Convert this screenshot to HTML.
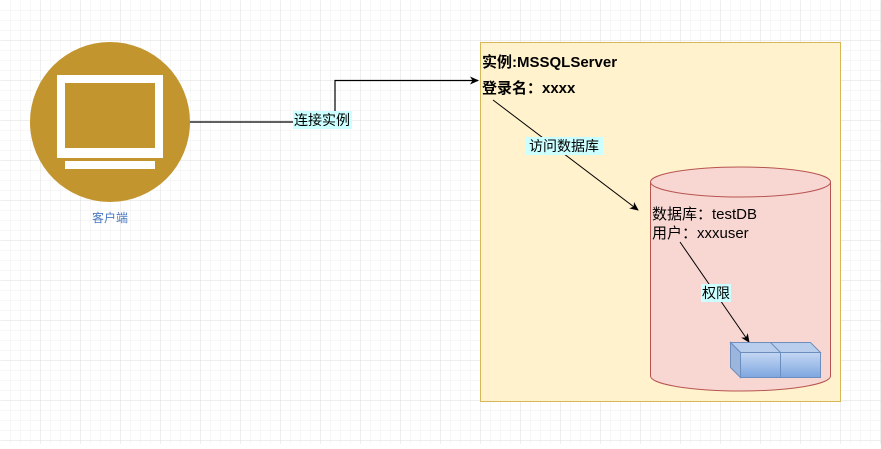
<!DOCTYPE html>
<html><head><meta charset="utf-8"><style>
html,body{margin:0;padding:0;background:#fff}
svg text{font-family:"Liberation Sans","Noto Sans CJK SC",sans-serif}
</style></head><body>
<svg width="881" height="444" xmlns="http://www.w3.org/2000/svg">
<defs>
<pattern id="g1" width="10" height="10" patternUnits="userSpaceOnUse"><path d="M10 0V10H0" fill="none" stroke="#efefef" stroke-width="1"/></pattern>
<pattern id="g2" width="40" height="40" patternUnits="userSpaceOnUse"><rect width="40" height="40" fill="url(#g1)"/><path d="M40 0V40H0" fill="none" stroke="#dcdcdc" stroke-width="1"/></pattern>
<linearGradient id="bl" x1="0" y1="0" x2="0" y2="1"><stop offset="0" stop-color="#c4d7f3"/><stop offset="1" stop-color="#7ea6e0"/></linearGradient>
<marker id="ar" markerWidth="10" markerHeight="10" refX="8" refY="5" orient="auto" markerUnits="userSpaceOnUse"><path d="M0 1L9 5L0 9L2.5 5Z" fill="#000"/></marker>
</defs>
<rect x="0" y="0" width="881" height="444" fill="url(#g2)" transform="translate(0.5,0.5)"/>
<circle cx="110" cy="122" r="80" fill="#c3952f"/>
<rect x="57" y="75" width="106" height="83" fill="#fff"/>
<rect x="65" y="83" width="90" height="65" fill="#c3952f"/>
<rect x="65" y="161" width="90" height="8" fill="#fff"/>
<text x="110" y="222" font-size="12" fill="#4a7ac0" text-anchor="middle">客户端</text>
<rect x="480.5" y="42.5" width="360" height="359" fill="#fff2cc" stroke="#d6b656"/>
<path d="M190 122H335V80.5H478" fill="none" stroke="#000" stroke-width="1.2" marker-end="url(#ar)"/>
<rect x="293" y="111" width="59" height="18" fill="#ccffff"/>
<text x="322" y="125" font-size="14" text-anchor="middle">连接实例</text>
<text x="482" y="67" font-size="15" font-weight="bold">实例:MSSQLServer</text>
<text x="482" y="93" font-size="15" font-weight="bold">登录名：xxxx</text>
<path d="M493 100L638 210" stroke="#000" stroke-width="1" marker-end="url(#ar)"/>
<rect x="526" y="137" width="77" height="18" fill="#ccffff"/>
<text x="564" y="151" font-size="14" text-anchor="middle">访问数据库</text>
<path d="M650.5 182V376A90 15 0 0 0 830.5 376V182A90 15 0 0 0 650.5 182Z" fill="#f8d7d3" stroke="#b85450"/>
<path d="M650.5 182A90 15 0 0 0 830.5 182" fill="none" stroke="#b85450"/>
<text x="652" y="219" font-size="15">数据库：testDB</text>
<text x="652" y="238" font-size="15">用户：xxxuser</text>
<path d="M680 242L749 342" stroke="#000" stroke-width="1" marker-end="url(#ar)"/>
<rect x="701" y="284" width="30" height="18" fill="#ccffff"/>
<text x="716" y="298" font-size="14" text-anchor="middle">权限</text>
<g stroke="#6c8ebf" stroke-width="1">
<path d="M730.5 342.5H810.5L820.5 352.5H740.5Z" fill="#b9cdec"/>
<path d="M730.5 342.5V367.5L740.5 377.5V352.5Z" fill="#9bb5dc"/>
<rect x="740.5" y="352.5" width="40" height="25" fill="url(#bl)"/>
<rect x="780.5" y="352.5" width="40" height="25" fill="url(#bl)"/>
<path d="M770.5 342.5L780.5 352.5" fill="none"/>
</g>
</svg>
</body></html>
